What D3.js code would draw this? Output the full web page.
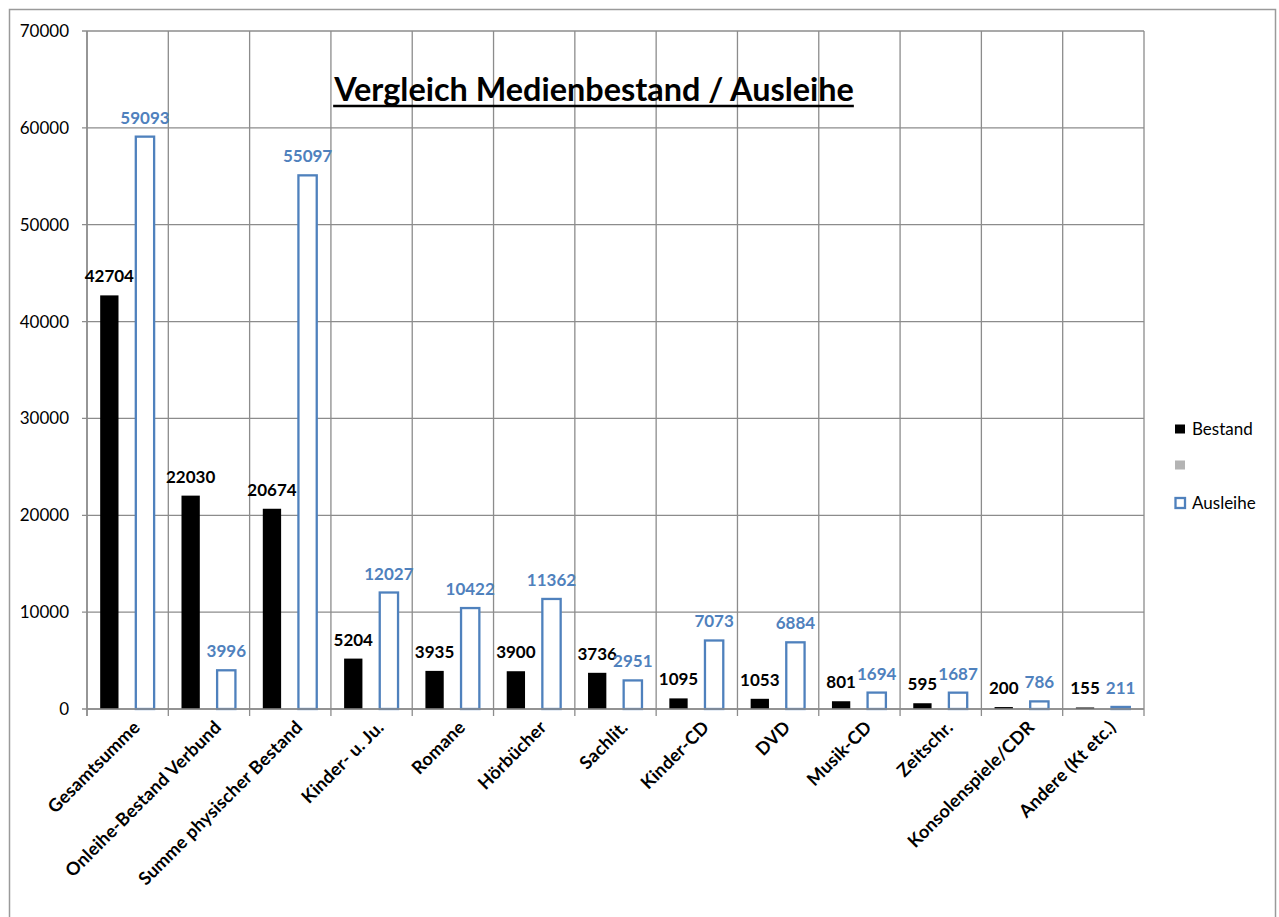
<!DOCTYPE html>
<html>
<head>
<meta charset="utf-8">
<script src="https://cdn.jsdelivr.net/npm/d3@7"></script>
<style>
  html, body { margin: 0; padding: 0; background: #fff; }
  svg { display: block; font-family: Lato, "Open Sans", sans-serif; }
</style>
</head>
<body>
<svg id="chart" width="1279" height="917"></svg>
<script>
// Medienbestand und Ausleihe je Mediengruppe
const categories = [
  "Gesamtsumme", "Onleihe-Bestand Verbund", "Summe physischer Bestand",
  "Kinder- u. Ju.", "Romane", "Hörbücher", "Sachlit.", "Kinder-CD",
  "DVD", "Musik-CD", "Zeitschr.", "Konsolenspiele/CDR", "Andere (Kt etc.)"
];
const bestand  = [42704, 22030, 20674, 5204, 3935, 3900, 3736, 1095, 1053, 801, 595, 200, 155];
const leer     = [null, null, null, null, null, null, null, null, null, null, null, null, null];
const ausleihe = [59093, 3996, 55097, 12027, 10422, 11362, 2951, 7073, 6884, 1694, 1687, 786, 211];
const seriesNames = ["Bestand", "", "Ausleihe"];
const yTicks = [0, 10000, 20000, 30000, 40000, 50000, 60000, 70000];
const chartTitle = "Vergleich Medienbestand / Ausleihe";

const BLUE = "#4f81bd";
const GRID = "#8c8c8c";
const GREY = "#b4b4b4";

const svg = d3.select("#chart");

// outer chart frame
svg.append("rect")
  .attr("x", 9.5).attr("y", 9.5)
  .attr("width", 1266).attr("height", 930)
  .attr("fill", "#fff").attr("stroke", "#9a9a9a").attr("stroke-width", 1.5);

const plot = { left: 87, right: 1144, top: 31, bottom: 709 };

const x = d3.scaleBand()
  .domain(categories)
  .range([plot.left, plot.right])
  .paddingInner(0).paddingOuter(0);

const xInner = d3.scaleBand()
  .domain(seriesNames.map((d, i) => i))
  .range([0, x.bandwidth()])
  .paddingInner(0).paddingOuter(0.72);

const y = d3.scaleLinear()
  .domain([0, 70000])
  .range([plot.bottom, plot.top]);

const g = svg.append("g");

// horizontal grid lines
g.append("g")
  .selectAll("line")
  .data(yTicks)
  .join("line")
  .attr("x1", plot.left - 5).attr("x2", plot.right)
  .attr("y1", d => y(d)).attr("y2", d => y(d))
  .attr("stroke", GRID).attr("stroke-width", 1.3);

// vertical grid lines at category boundaries, with ticks below the axis
const bounds = categories.map(c => x(c)).concat([plot.right]);
g.append("g")
  .selectAll("line")
  .data(bounds)
  .join("line")
  .attr("x1", d => d).attr("x2", d => d)
  .attr("y1", plot.top).attr("y2", plot.bottom + 7)
  .attr("stroke", GRID).attr("stroke-width", 1.3);

// y axis labels
const yAxis = d3.axisLeft(y).tickValues(yTicks).tickSize(0).tickPadding(18)
  .tickFormat(d3.format("d"));
const ya = svg.append("g").attr("transform", `translate(${plot.left},0)`).call(yAxis);
ya.select(".domain").remove();
ya.selectAll("text")
  .attr("font-family", "Lato, sans-serif")
  .attr("font-size", 17)
  .attr("fill", "#000");

// x axis category labels
const xAxis = d3.axisBottom(x).tickSize(0).tickPadding(0);
const xa = svg.append("g").attr("transform", `translate(0,${plot.bottom})`).call(xAxis);
xa.select(".domain").remove();
xa.selectAll(".tick text")
  .attr("font-family", "Lato, sans-serif")
  .attr("font-size", 18)
  .attr("font-weight", "bold")
  .attr("letter-spacing", 0.2)
  .attr("fill", "#000")
  .attr("text-anchor", "end")
  .attr("y", 0).attr("dy", "0.35em")
  .attr("transform", "translate(9,15) rotate(-45)");

// bars
const bars = svg.append("g");
bars.selectAll("rect.bestand")
  .data(bestand)
  .join("rect")
  .attr("class", "bestand")
  .attr("x", (d, i) => x(categories[i]) + xInner(0))
  .attr("width", xInner.bandwidth())
  .attr("y", d => y(d))
  .attr("height", d => y(0) - y(d))
  .attr("fill", "#000");

bars.selectAll("rect.ausleihe")
  .data(ausleihe)
  .join("rect")
  .attr("class", "ausleihe")
  .attr("x", (d, i) => x(categories[i]) + xInner(2) - 1)
  .attr("width", xInner.bandwidth())
  .attr("y", d => y(d))
  .attr("height", d => y(0) - y(d))
  .attr("fill", "#fff")
  .attr("stroke", BLUE).attr("stroke-width", 2.3);

// axis lines drawn over the bars
svg.append("line")
  .attr("x1", plot.left).attr("x2", plot.right)
  .attr("y1", plot.bottom).attr("y2", plot.bottom)
  .attr("stroke", GRID).attr("stroke-width", 1.5);
svg.append("line")
  .attr("x1", plot.left).attr("x2", plot.left)
  .attr("y1", plot.top).attr("y2", plot.bottom + 7)
  .attr("stroke", GRID).attr("stroke-width", 1.5);

// value labels
const labels = svg.append("g")
  .attr("font-family", "Lato, sans-serif")
  .attr("font-size", 17)
  .attr("font-weight", "bold")
  .attr("text-anchor", "middle");

labels.selectAll("text.lb")
  .data(bestand)
  .join("text")
  .attr("class", "lb")
  .attr("x", (d, i) => x(categories[i]) + xInner(0) + xInner.bandwidth() / 2)
  .attr("y", d => y(d) - 13)
  .attr("fill", "#000")
  .text(d => d);

labels.selectAll("text.la")
  .data(ausleihe)
  .join("text")
  .attr("class", "la")
  .attr("x", (d, i) => x(categories[i]) + xInner(2) - 1 + xInner.bandwidth() / 2)
  .attr("y", d => y(d) - 13)
  .attr("fill", BLUE)
  .text(d => d);

// title with underline
const title = svg.append("text")
  .attr("x", 594).attr("y", 101)
  .attr("text-anchor", "middle")
  .attr("font-family", "Lato, sans-serif")
  .attr("font-size", 32.4)
  .attr("font-weight", "bold")
  .attr("fill", "#000")
  .text(chartTitle);
const tb = title.node().getBBox();
svg.append("line")
  .attr("x1", tb.x).attr("x2", tb.x + tb.width)
  .attr("y1", 106).attr("y2", 106)
  .attr("stroke", "#000").attr("stroke-width", 2.5);

// legend
const legend = svg.append("g")
  .attr("font-family", "Lato, sans-serif")
  .attr("font-size", 17);
const legendItems = [
  { name: seriesNames[0], y: 429, fill: "#000", stroke: "none" },
  { name: seriesNames[1], y: 465, fill: GREY, stroke: "none" },
  { name: seriesNames[2], y: 503, fill: "#fff", stroke: BLUE }
];
legendItems.forEach(it => {
  legend.append("rect")
    .attr("x", it.stroke === "none" ? 1175 : 1175.5)
    .attr("y", it.y - (it.stroke === "none" ? 4.5 : 5))
    .attr("width", it.stroke === "none" ? 10 : 9.5)
    .attr("height", it.stroke === "none" ? 9 : 10)
    .attr("fill", it.fill)
    .attr("stroke", it.stroke)
    .attr("stroke-width", 2.3);
  legend.append("text")
    .attr("x", 1192).attr("y", it.y + 6)
    .attr("fill", "#000")
    .text(it.name);
});
</script>
</body>
</html>
